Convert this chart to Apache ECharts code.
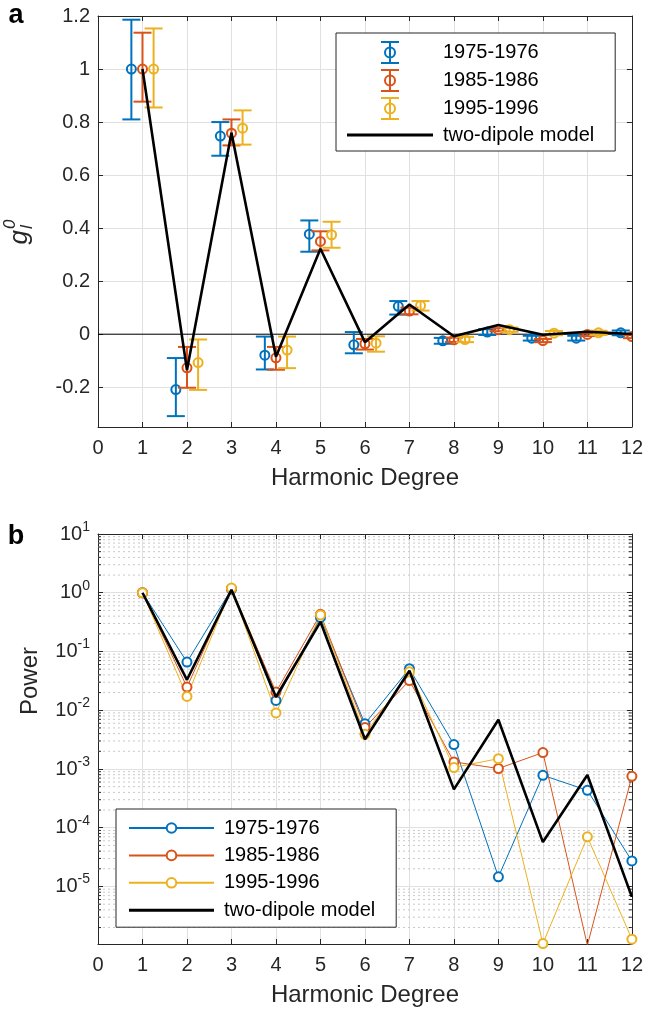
<!DOCTYPE html>
<html><head><meta charset="utf-8">
<script src="https://cdn.jsdelivr.net/npm/echarts@6/dist/echarts.min.js"></script>
<style>html,body{margin:0;padding:0;background:#fff}#c{width:646px;height:1012px}</style>
</head><body><div id="c"></div>
<script>
// ---------------- data ----------------
const degrees = [1, 2, 3, 4, 5, 6, 7, 8, 9, 10, 11, 12];
const seriesNames = ['1975-1976', '1985-1986', '1995-1996'];
const modelName = 'two-dipole model';

// panel a: g_l^0 (value, lower bound, upper bound)
const g1975   = [1.000, -0.209, 0.747, -0.079, 0.377, -0.040, 0.105, -0.025, 0.008, -0.015, -0.015, 0.005];
const g1975Lo = [0.810, -0.309, 0.673, -0.133, 0.311, -0.072, 0.074, -0.036, -0.003, -0.024, -0.024, -0.004];
const g1975Hi = [1.186, -0.090, 0.800, -0.009, 0.429, 0.008, 0.125, -0.014, 0.019, -0.006, -0.006, 0.014];
const g1985   = [1.000, -0.127, 0.758, -0.089, 0.350, -0.036, 0.087, -0.021, 0.017, -0.024, -0.001, -0.009];
const g1985Lo = [0.877, -0.202, 0.712, -0.134, 0.316, -0.058, 0.075, -0.029, 0.011, -0.030, -0.007, -0.015];
const g1985Hi = [1.137, -0.048, 0.810, -0.048, 0.388, -0.018, 0.100, -0.013, 0.023, -0.018, 0.005, -0.003];
const g1995   = [1.000, -0.107, 0.777, -0.060, 0.375, -0.034, 0.108, -0.020, 0.017, 0.004, 0.005, 0.000];
const g1995Lo = [0.855, -0.210, 0.715, -0.128, 0.326, -0.066, 0.089, -0.030, 0.009, -0.004, -0.003, -0.008];
const g1995Hi = [1.153, -0.020, 0.844, -0.009, 0.424, -0.008, 0.125, -0.010, 0.025, 0.012, 0.013, 0.008];
const gModel  = [1.000, -0.135, 0.760, -0.085, 0.322, -0.030, 0.112, -0.008, 0.035, -0.002, 0.009, 0.001];

// panel b: power
const p1975  = [1.0, 0.066, 1.15, 0.0147, 0.38, 0.0059, 0.051, 0.0026, 1.46e-5, 0.00078, 0.000434, 2.72e-5];
const p1985  = [1.0, 0.0248, 1.18, 0.0204, 0.43, 0.0051, 0.032, 0.00132, 0.00102, 0.0019, 1.0e-6, 0.00075];
const p1995  = [1.0, 0.0172, 1.20, 0.0090, 0.42, 0.0039, 0.045, 0.00106, 0.0015, 1.07e-6, 7.0e-5, 1.27e-6];
const pModel = [1.0, 0.033, 1.12, 0.0168, 0.32, 0.0032, 0.047, 0.00045, 0.0069, 5.7e-5, 0.00079, 6.65e-6];

// axis ranges
const xRange = [0, 12];
const gRange = [-0.35, 1.2];
const pRange = [1.05e-6, 10];

// ---------------- styling ----------------
const FONT = "'Liberation Sans', Arial, Helvetica, sans-serif";
const AX = '#262626';
const GRIDC = '#e0e0e0';
const MINORC = '#c8c8c8';
const COLORS = ['#0072BD', '#D95319', '#EDB120'];
const OFFSETS = [-0.25, 0, 0.25];

const chart = echarts.init(document.getElementById('c'), null, {renderer: 'canvas'});

function xAx(gridIndex, pos, name) {
  const bottom = pos === 'bottom';
  return {
    type: 'value', gridIndex, position: pos, min: xRange[0], max: xRange[1], interval: 1,
    axisLine: {show: true, onZero: false, lineStyle: {color: AX, width: 1}},
    axisTick: {show: true, inside: true, length: 5, lineStyle: {color: AX}},
    axisLabel: {show: bottom, color: AX, fontSize: 20, fontFamily: FONT, margin: 11},
    splitLine: {show: bottom, lineStyle: {color: GRIDC, width: 1}},
    name: bottom ? name : '', nameLocation: 'middle', nameGap: 39,
    nameTextStyle: {color: AX, fontSize: 24, fontFamily: FONT}
  };
}
function gAx(pos) {
  const left = pos === 'left';
  return {
    type: 'value', gridIndex: 0, position: pos, min: gRange[0], max: gRange[1],
    minInterval: 0.2, maxInterval: 0.2, splitNumber: 8,
    axisLine: {show: true, onZero: false, lineStyle: {color: AX, width: 1}},
    axisTick: {show: true, inside: true, length: 5, lineStyle: {color: AX}},
    axisLabel: {show: left, color: AX, fontSize: 20, fontFamily: FONT, margin: 8,
      formatter: v => {
        const k = v / 0.2;
        if (Math.abs(k - Math.round(k)) > 1e-6) return '';
        return String(Number(v.toFixed(1)));
      }},
    splitLine: {show: left, lineStyle: {color: GRIDC, width: 1}}
  };
}
function pAx(pos) {
  const left = pos === 'left';
  return {
    type: 'log', logBase: 10, gridIndex: 1, position: pos, min: pRange[0], max: pRange[1],
    axisLine: {show: true, onZero: false, lineStyle: {color: AX, width: 1}},
    axisTick: {show: true, inside: true, length: 5, lineStyle: {color: AX}},
    axisLabel: {show: left, color: AX, fontSize: 20, fontFamily: FONT, margin: 8,
      formatter: v => {
        const e = Math.log10(v);
        if (Math.abs(e - Math.round(e)) > 1e-6) return '';
        return '{b|10}{s|' + Math.round(e) + '}';
      },
      rich: {
        b: {fontSize: 20, fontFamily: FONT, color: AX},
        s: {fontSize: 14, fontFamily: FONT, color: AX, padding: [0, 0, 14, 0]}
      }},
    splitLine: {show: left, lineStyle: {color: GRIDC, width: 1}}
  };
}

// minor log grid values (axis decoration)
const minorVals = [];
for (let e = -6; e < 1; e++) for (let k = 2; k <= 9; k++) {
  const v = k * Math.pow(10, e);
  if (v > pRange[0] && v < pRange[1]) minorVals.push(v);
}

function errSeries(i, vals, lo, hi) {
  const color = COLORS[i], dx = OFFSETS[i];
  return {
    type: 'custom', name: 'a:' + seriesNames[i], xAxisIndex: 0, yAxisIndex: 0,
    clip: true, z: 3, itemStyle: {color},
    data: degrees.map((d, j) => [d, vals[j], lo[j], hi[j]]),
    renderItem(params, api) {
      const x = api.value(0);
      const c = api.coord([x, api.value(1)]);
      const pl = api.coord([x, api.value(2)]);
      const ph = api.coord([x, api.value(3)]);
      const px = c[0] + dx * api.size([1, 0])[0];
      const cap = 9;
      const st = {stroke: color, lineWidth: 2, fill: null};
      return {type: 'group', children: [
        {type: 'line', shape: {x1: px, y1: pl[1], x2: px, y2: ph[1]}, style: st},
        {type: 'line', shape: {x1: px - cap, y1: pl[1], x2: px + cap, y2: pl[1]}, style: st},
        {type: 'line', shape: {x1: px - cap, y1: ph[1], x2: px + cap, y2: ph[1]}, style: st},
        {type: 'circle', shape: {cx: px, cy: c[1], r: 4.5}, style: {stroke: color, lineWidth: 2, fill: null}}
      ]};
    }
  };
}
function powSeries(i, vals) {
  return {
    type: 'line', name: seriesNames[i], xAxisIndex: 2, yAxisIndex: 2, clip: true, z: 3,
    data: degrees.map((d, j) => [d, vals[j]]),
    symbol: 'emptyCircle', symbolSize: 9, showAllSymbol: true,
    lineStyle: {width: 1, color: COLORS[i]},
    itemStyle: {color: COLORS[i], borderWidth: 2}
  };
}

// legend icon shapes
const EB_ICON = 'path://M0,0H18V2H0Z M8,0H10V23H8Z M0,21H18V23H0Z M15,11.5A6,6 0 1,1 3,11.5A6,6 0 1,1 15,11.5Z M13,11.5A4,4 0 1,0 5,11.5A4,4 0 1,0 13,11.5Z';
const LINE_ICON = 'path://M0,0H86V3H0Z';

const option = {
  animation: false,
  backgroundColor: '#fff',
  textStyle: {fontFamily: FONT},
  grid: [
    {left: 98, right: 13, top: 16, height: 411},
    {left: 98, right: 13, top: 534, height: 410}
  ],
  xAxis: [xAx(0, 'bottom', 'Harmonic Degree'), xAx(0, 'top'), xAx(1, 'bottom', 'Harmonic Degree'), xAx(1, 'top')],
  yAxis: [gAx('left'), gAx('right'), pAx('left'), pAx('right')],
  legend: [
    {
      data: seriesNames.map(n => ({name: 'a:' + n, icon: EB_ICON})).concat([{name: 'a:' + modelName, icon: LINE_ICON}]),
      formatter: n => n.slice(2),
      orient: 'vertical', left: 336, top: 33, itemWidth: 86, itemHeight: 23, itemGap: 5,
      padding: [8, 21, 6, 11], borderColor: '#262626', borderWidth: 1, backgroundColor: '#fff',
      itemStyle: {borderWidth: 0},
      textStyle: {fontSize: 20, fontFamily: FONT, color: '#000', lineHeight: 20, padding: [0, 0, 0, 5]},
      selectedMode: false
    },
    {
      data: seriesNames.map(n => ({name: n})).concat([{name: modelName, icon: LINE_ICON}]),
      orient: 'vertical', left: 116, top: 809, itemWidth: 85, itemHeight: 12, itemGap: 7.4,
      padding: [9, 21, 7, 12], borderColor: '#262626', borderWidth: 1, backgroundColor: '#fff',
      textStyle: {fontSize: 20, fontFamily: FONT, color: '#000', lineHeight: 20, padding: [0, 0, 0, 5]},
      selectedMode: false
    }
  ],
  graphic: [
    {type: 'text', x: 16, y: 16, style: {text: 'a', font: 'bold 27px ' + FONT, fill: '#000', align: 'center', verticalAlign: 'middle', textAlign: 'center', textVerticalAlign: 'middle'}},
    {type: 'text', x: 16, y: 537, style: {text: 'b', font: 'bold 27px ' + FONT, fill: '#000', align: 'center', verticalAlign: 'middle', textAlign: 'center', textVerticalAlign: 'middle'}},
    {type: 'group', x: 20, y: 230, rotation: Math.PI / 2, children: [
      {type: 'text', x: 0, y: 0, style: {text: 'g', font: 'italic 26px ' + FONT, fill: AX, align: 'right', verticalAlign: 'middle', textAlign: 'right', textVerticalAlign: 'middle'}},
      {type: 'text', x: 1, y: -10, style: {text: '0', font: 'italic 17px ' + FONT, fill: AX, align: 'left', verticalAlign: 'middle', textAlign: 'left', textVerticalAlign: 'middle'}},
      {type: 'text', x: 1, y: 7, style: {text: 'l', font: 'italic 17px ' + FONT, fill: AX, align: 'left', verticalAlign: 'middle', textAlign: 'left', textVerticalAlign: 'middle'}}
    ]},
    {type: 'text', x: 30, y: 681, rotation: Math.PI / 2, style: {text: 'Power', font: '24px ' + FONT, fill: AX, align: 'center', verticalAlign: 'middle', textAlign: 'center', textVerticalAlign: 'middle'}}
  ],
  series: [
    // zero line in panel a
    {type: 'line', name: 'zero', xAxisIndex: 0, yAxisIndex: 0, data: [[xRange[0], 0], [xRange[1], 0]],
      symbol: 'none', silent: true, z: 2, lineStyle: {color: '#000', width: 1}},
    // minor log grid in panel b
    {type: 'custom', name: 'minor', xAxisIndex: 2, yAxisIndex: 2, silent: true, z: 1, clip: false,
      data: minorVals.map(v => [xRange[0], v]),
      renderItem(params, api) {
        const a = api.coord([xRange[0], api.value(1)]);
        const b = api.coord([xRange[1], api.value(1)]);
        return {type: 'group', children: [
          {type: 'line', shape: {x1: a[0], y1: a[1], x2: b[0], y2: b[1]}, style: {stroke: MINORC, lineWidth: 1, lineDash: [2, 3]}},
          {type: 'line', shape: {x1: a[0], y1: a[1], x2: a[0] + 3, y2: a[1]}, style: {stroke: AX, lineWidth: 1}},
          {type: 'line', shape: {x1: b[0] - 3, y1: b[1], x2: b[0], y2: b[1]}, style: {stroke: AX, lineWidth: 1}}
        ]};
      }},
    errSeries(0, g1975, g1975Lo, g1975Hi),
    errSeries(1, g1985, g1985Lo, g1985Hi),
    errSeries(2, g1995, g1995Lo, g1995Hi),
    {type: 'line', name: 'a:' + modelName, xAxisIndex: 0, yAxisIndex: 0, z: 5, symbol: 'none',
      data: degrees.map((d, j) => [d, gModel[j]]), lineStyle: {color: '#000', width: 2.6}, itemStyle: {color: '#000'}},
    powSeries(0, p1975),
    powSeries(1, p1985),
    powSeries(2, p1995),
    {type: 'line', name: modelName, xAxisIndex: 2, yAxisIndex: 2, z: 5, symbol: 'none', clip: true,
      data: degrees.map((d, j) => [d, pModel[j]]), lineStyle: {color: '#000', width: 2.6}, itemStyle: {color: '#000'}}
  ]
};
chart.setOption(option);
</script>
</body></html>
